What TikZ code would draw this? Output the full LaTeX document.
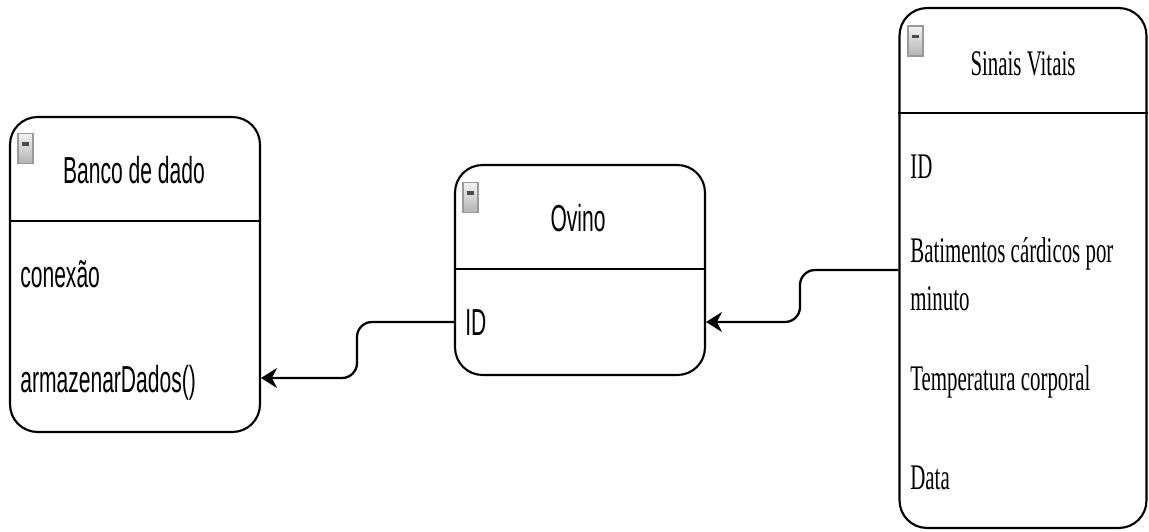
\documentclass[tikz,border=0pt]{standalone}
\usepackage{fontspec}
\newfontfamily\umlsans[FakeStretch=0.56]{Liberation Sans}
\newfontfamily\umlserif[FakeStretch=0.58]{Liberation Serif}
\usetikzlibrary{arrows.meta}

\begin{document}
\begin{tikzpicture}[x=0.02cm,y=-0.02cm,
    classbox/.style={draw,line width=1.2pt,rounded corners=0.55cm,fill=white,minimum width=5cm},
    sans/.style={font=\umlsans\fontsize{21.4}{25}\selectfont},
    serif/.style={font=\umlserif\fontsize{20.5}{25}\selectfont},
    attr/.style={anchor=base west,inner sep=0pt},
    title/.style={anchor=base,inner sep=0pt},
    toggle/.style={draw=gray!80,line width=0.6pt,inner sep=0pt,minimum width=0.3cm,minimum height=0.6cm,
      top color=gray!10,bottom color=gray!60,
      path picture={\draw[line width=2pt,black!70]
        ([xshift=2pt,yshift=2.5pt]path picture bounding box.west) --
        ([xshift=-2pt,yshift=2.5pt]path picture bounding box.east);}},
    link/.style={line width=1.3pt,rounded corners=0.3cm,-{Stealth[length=0.32cm,width=0.4cm]}}]
  \useasboundingbox (0,0) rectangle (1149,531);
  % classes
  \node[classbox,minimum height=6.3cm] (banco) at (135,274.5) {};
  \node[classbox,minimum height=4.2cm] (ovino) at (580,270) {};
  \node[classbox,minimum width=4.94cm,minimum height=10.4cm] (sinais) at (1023,268) {};
  % header separators
  \draw[line width=1.2pt] (banco.west |- 0,221) -- (banco.east |- 0,221);
  \draw[line width=1.2pt] (ovino.west |- 0,269) -- (ovino.east |- 0,269);
  \draw[line width=1.2pt] (sinais.west |- 0,113) -- (sinais.east |- 0,113);
  % collapse buttons
  \node[toggle] (bancobtn) at (25.5,148.5) {};
  \node[toggle] (ovinobtn) at (470.5,197.5) {};
  \node[toggle] (sinaisbtn) at (915.5,41) {};
  % Banco de dado
  \node[title,sans] (bancotitle) at (134,183) {Banco de dado};
  \node[attr,sans] (conexao) at (20,287) {conexão};
  \node[attr,sans] (armazenar) at (20,392) {armazenarDados()};
  % Ovino
  \node[title,sans] (ovinotitle) at (578,231) {Ovino};
  \node[attr,sans] (ovinoid) at (465,335) {ID};
  % Sinais Vitais
  \node[title,serif] (sinaistitle) at (1023,75) {Sinais Vitais};
  \node[attr,serif] (sinaisid) at (910,178) {ID};
  \node[attr,serif] (batimentos) at (910,262) {Batimentos cárdicos por};
  \node[attr,serif] (minuto) at (910,310) {minuto};
  \node[attr,serif] (temperatura) at (910,390) {Temperatura corporal};
  \node[attr,serif] (data) at (910,489) {Data};
  % associations
  \draw[link] (ovino.west |- 0,322) -- (357,322) -- (357,378) -- (banco.east |- 0,378);
  \draw[link] (sinais.west |- 0,270) -- (800,270) -- (800,322) -- (ovino.east |- 0,322);
\end{tikzpicture}
\end{document}
